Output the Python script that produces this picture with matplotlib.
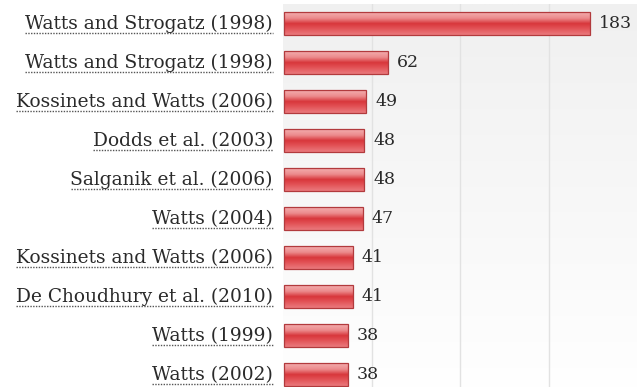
import matplotlib
matplotlib.use('Agg')
import matplotlib.pyplot as plt
import numpy as np
from matplotlib.colors import LinearSegmentedColormap
from matplotlib.lines import Line2D

# citation counts per paper
papers = ['Watts and Strogatz (1998)', 'Watts and Strogatz (1998)',
          'Kossinets and Watts (2006)', 'Dodds et al. (2003)',
          'Salganik et al. (2006)', 'Watts (2004)',
          'Kossinets and Watts (2006)', 'De Choudhury et al. (2010)',
          'Watts (1999)', 'Watts (2002)']
counts = [183, 62, 49, 48, 48, 47, 41, 41, 38, 38]

W, H = 637, 387
XMIN, XMAX = -1.5, 210.6
FONT = 'DejaVu Serif'
TEXT_COL = '#2a2a2a'

fig = plt.figure(figsize=(W / 100, H / 100), dpi=100)
fig.patch.set_facecolor('white')
# plot area runs off the bottom of the figure
ax = fig.add_axes([283 / W, -7.5 / H, (W - 283) / W, (383 + 7.5) / H])
ax.set_xlim(XMIN, XMAX)
ax.set_ylim(len(papers) - 0.5, -0.5)
for s in ax.spines.values():
    s.set_visible(False)
ax.set_xticks([])
ax.set_yticks([])

# soft grey-to-white background
bg = np.linspace(0, 1, 256).reshape(-1, 1)
bg_cmap = LinearSegmentedColormap.from_list('bg', ['#f0f0f0', '#ffffff'])
ax.imshow(bg, cmap=bg_cmap, aspect='auto', extent=[0, 1, 0, 1],
          transform=ax.transAxes, zorder=0)

# vertical gridlines, four equal sections
for gx in np.linspace(XMIN, XMAX, 5)[1:-1]:
    ax.axvline(gx, color='#e2e2e2', lw=1, zorder=1)

# glossy red bars
bar_cmap = LinearSegmentedColormap.from_list(
    'gloss', [(0.0, '#f4b3b4'), (0.3, '#ec8a8c'), (0.52, '#d8363b'),
              (0.75, '#e35559'), (1.0, '#ea7a7d')])
grad = np.linspace(0, 1, 64).reshape(-1, 1)
ypos = np.arange(len(papers))
bars = ax.barh(ypos, counts, left=XMIN + 0.8, height=0.59, facecolor='none',
               edgecolor='#b23a3d', lw=0.9, zorder=3)
for b in bars:
    x0, y0 = b.get_x(), b.get_y()
    im = ax.imshow(grad, cmap=bar_cmap, aspect='auto',
                   extent=[x0, x0 + b.get_width(), y0 + b.get_height(), y0],
                   zorder=2)
    im.set_clip_path(b)

# value labels
for y, v in zip(ypos, counts):
    ax.text(XMIN + 0.8 + v + 5.5, y, str(v), fontsize=12.5, family=FONT,
            color=TEXT_COL, va='center', ha='left')

ax.set_xlim(XMIN, XMAX)
ax.set_ylim(len(papers) - 0.5, -0.5)

# paper names with dotted underline
labels = []
for y, name in zip(ypos, papers):
    t = ax.annotate(name, xy=(0, y), xycoords=('figure pixels', 'data'),
                    xytext=(273, 0), textcoords=('figure pixels', 'offset points'),
                    fontsize=13.4, family=FONT, color=TEXT_COL,
                    ha='right', va='center')
    labels.append(t)

fig.canvas.draw()
r = fig.canvas.get_renderer()
for t in labels:
    bb = t.get_window_extent(r)
    yl = bb.y0
    fig.add_artist(Line2D([bb.x0 / W, bb.x1 / W], [yl / H, yl / H],
                          transform=fig.transFigure, color='#555555',
                          lw=1.0, ls=(0, (1, 1))))

fig.savefig('out.png', dpi=100)
